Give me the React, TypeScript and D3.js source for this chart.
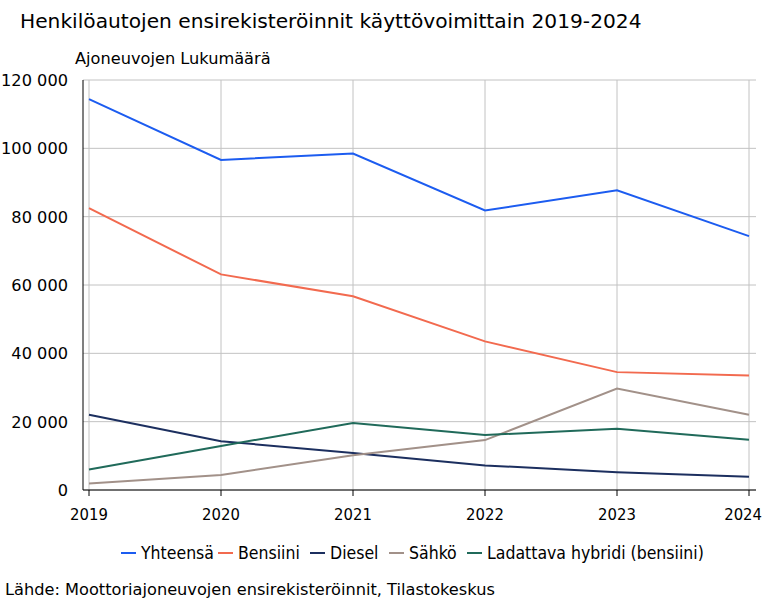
import React from "react";
import * as d3 from "d3";

const years = [2019, 2020, 2021, 2022, 2023, 2024];
const yhteensa = [114400, 96600, 98500, 81800, 87700, 74300];
const bensiini = [82500, 63100, 56700, 43500, 34500, 33500];
const diesel = [22000, 14300, 10800, 7200, 5200, 3900];
const sahko = [1900, 4400, 10200, 14600, 29700, 22000];
const hybridi = [6000, 12900, 19600, 16100, 17900, 14700];
const seriesNames = ["Yhteensä", "Bensiini", "Diesel", "Sähkö", "Ladattava hybridi (bensiini)"];
const seriesColors = ["#1c5cf0", "#f26a4f", "#1c2f5f", "#a29189", "#206a5a"];
const yTicks = [0, 20000, 40000, 60000, 80000, 100000, 120000];

const W = 766, H = 600;
const left = 83, right = 756, top = 80, bottom = 490;
const xFirst = 89, xLast = 749;

export default function App() {
  const data = [yhteensa, bensiini, diesel, sahko, hybridi];
  const x = d3.scaleLinear().domain([2019, 2024]).range([xFirst, xLast]);
  const y = d3.scaleLinear().domain([0, 120000]).range([bottom, top]);
  const line = d3.line<number>().x((_, i) => x(years[i])).y((d) => y(d));
  const fmt = (v: number) => d3.format(",")(v).replace(/,/g, " ");
  const legendX = [121, 218, 310, 389, 467];
  const sans = "'DejaVu Sans', Verdana, sans-serif";
  const cond = "'DejaVu Sans Condensed', 'DejaVu Sans', sans-serif";
  return (
    <svg width={W} height={H} style={{ position: "absolute", left: 0, top: 0, background: "#fff" }}>
      <text x={20} y={28} fontFamily={sans} fontSize={20.2} fill="#000">
        Henkilöautojen ensirekisteröinnit käyttövoimittain 2019-2024
      </text>
      <text x={75} y={64} fontFamily={sans} fontSize={16.2} fill="#000">
        Ajoneuvojen Lukumäärä
      </text>
      {yTicks.map((t) => (
        <g key={t}>
          <line x1={left} x2={right} y1={y(t)} y2={y(t)} stroke="#c2c2c2" strokeWidth={1} />
          <text x={68} y={y(t) + 6} textAnchor="end" fontFamily={sans} fontSize={16.2} fill="#000">
            {fmt(t)}
          </text>
        </g>
      ))}
      {years.map((yr, i) => {
        const last = i === years.length - 1;
        return (
          <g key={yr}>
            <line x1={x(yr)} x2={x(yr)} y1={top} y2={bottom} stroke="#c2c2c2" strokeWidth={1} />
            <line x1={x(yr)} x2={x(yr)} y1={bottom} y2={bottom + 6} stroke="#000" strokeWidth={1} />
            <text
              x={last ? W - 4 : x(yr)}
              y={bottom + 30}
              textAnchor={last ? "end" : "middle"}
              fontFamily={cond}
              fontSize={16.5}
              fill="#000"
            >
              {yr}
            </text>
          </g>
        );
      })}
      <line x1={left} x2={left} y1={top} y2={bottom} stroke="#000" strokeWidth={1} />
      <line x1={left} x2={right} y1={bottom} y2={bottom} stroke="#000" strokeWidth={1} />
      {data.map((s, i) => (
        <path key={i} d={line(s) || ""} fill="none" stroke={seriesColors[i]} strokeWidth={2} />
      ))}
      {seriesNames.map((n, i) => (
        <g key={n}>
          <line x1={legendX[i]} x2={legendX[i] + 15} y1={553} y2={553} stroke={seriesColors[i]} strokeWidth={2} />
          <text x={legendX[i] + 20} y={559} fontFamily={cond} fontSize={17.5} fill="#000">
            {n}
          </text>
        </g>
      ))}
      <text x={5} y={595} fontFamily={sans} fontSize={16.2} fill="#000">
        Lähde: Moottoriajoneuvojen ensirekisteröinnit, Tilastokeskus
      </text>
    </svg>
  );
}
